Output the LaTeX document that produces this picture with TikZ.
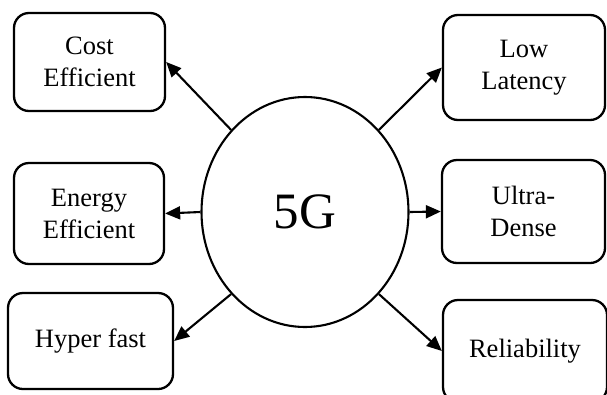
\documentclass[tikz,border=0pt]{standalone}
\usepackage{fontspec}
\setmainfont{Liberation Serif}
\usetikzlibrary{arrows.meta,shapes.geometric}
\tikzset{
  featbox/.style={draw, line width=2.3pt, rounded corners=15pt, align=center,
    inner sep=0pt, font=\fontsize{26.5}{32}\selectfont},
  arr/.style={line width=2.1pt, -{Triangle[length=15pt,width=13pt]}},
}
\begin{document}
\begin{tikzpicture}[x=1pt,y=-1pt]
\useasboundingbox (0,0) rectangle (607,394);
\clip (0,0) rectangle (607,394);
\node[draw, ellipse, line width=2.1pt, minimum width=207pt, minimum height=230pt, inner sep=0pt,
  font=\fontsize{51}{60}\selectfont] (g) at (305,212) {5G};
\node[featbox, minimum width=151pt, minimum height=98pt] (cost) at (89.5,62) {Cost\\Efficient};
\node[featbox, minimum width=150pt, minimum height=101pt] (energy) at (89,213.5) {Energy\\Efficient};
\node[featbox, minimum width=165pt, minimum height=96pt] (hyper) at (90.5,341) {Hyper fast};
\node[featbox, minimum width=162pt, minimum height=105pt] (low) at (524,67.5) {Low\\Latency};
\node[featbox, minimum width=163pt, minimum height=103pt] (ultra) at (523.5,211.5) {Ultra-\\Dense};
\node[featbox, minimum width=164pt, minimum height=102pt] (rel) at (525,351) {Reliability};
\draw[arr] (g.132) -- (cost.east);
\draw[arr] (g.48) -- (low.west);
\draw[arr] (g.180) -- (energy.east);
\draw[arr] (g.0) -- (ultra.west);
\draw[arr] (g.228) -- (hyper.east);
\draw[arr] (g.312) -- (rel.west);
\end{tikzpicture}
\end{document}
